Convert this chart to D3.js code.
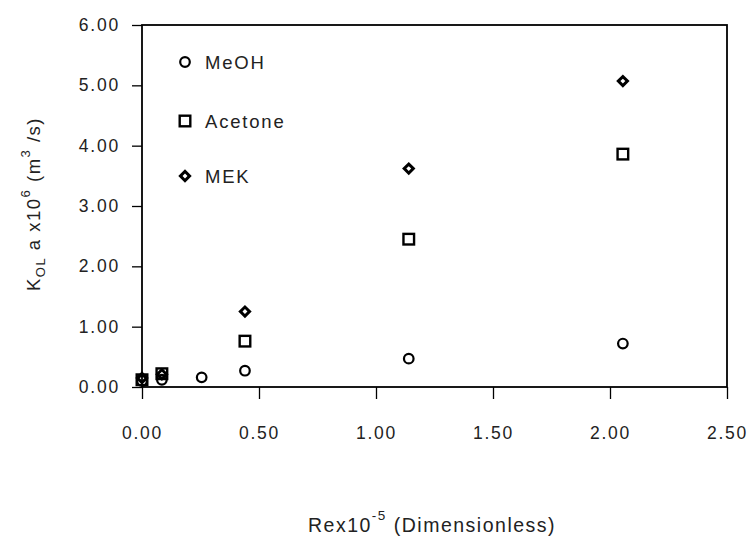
<!DOCTYPE html>
<html>
<head>
<meta charset="utf-8">
<script src="https://cdn.jsdelivr.net/npm/d3@7"></script>
<style>
  body { margin: 0; background: #fff; }
  svg { display: block; font-family: "Liberation Sans", Arial, sans-serif; }
  .tick text { fill: #222; }
</style>
</head>
<body>
<svg id="chart" width="750" height="548"></svg>
<script>
// values
let meohX = [0.00, 0.085, 0.255, 0.44, 1.14, 2.055];
let meohY = [0.10, 0.12, 0.16, 0.27, 0.47, 0.72];
let acetoneX = [0.00, 0.085, 0.44, 1.14, 2.055];
let acetoneY = [0.12, 0.22, 0.76, 2.45, 3.86];
let mekX = [0.00, 0.085, 0.44, 1.14, 2.055];
let mekY = [0.15, 0.21, 1.25, 3.62, 5.07];
let xTicks = [0, 0.5, 1, 1.5, 2, 2.5];
let yTicks = [0, 1, 2, 3, 4, 5, 6];
let seriesNames = ['MeOH', 'Acetone', 'MEK'];

let svg = d3.select('#chart');
let x = d3.scaleLinear().domain([0, 2.5]).range([142, 727]);
let y = d3.scaleLinear().domain([0, 6]).range([387, 25]);

// frame
svg.append('rect')
  .attr('x', x(0)).attr('y', y(6))
  .attr('width', x(2.5) - x(0)).attr('height', y(0) - y(6))
  .attr('fill', 'none').attr('stroke', '#000').attr('stroke-width', 1.8);

let yAxis = svg.append('g')
  .attr('transform', 'translate(' + x(0) + ',0)')
  .call(d3.axisLeft(y).tickValues(yTicks).tickSize(10).tickPadding(12).tickFormat(d3.format('.2f')));
let xAxis = svg.append('g')
  .attr('transform', 'translate(0,' + y(0) + ')')
  .call(d3.axisBottom(x).tickValues(xTicks).tickSize(12).tickPadding(28).tickFormat(d3.format('.2f')));

[yAxis, xAxis].forEach(ax => {
  ax.select('.domain').remove();
  ax.selectAll('.tick line').attr('stroke', '#000').attr('stroke-width', 1.3);
  ax.selectAll('.tick text')
    .attr('font-family', '"Liberation Sans", Arial, sans-serif')
    .attr('font-size', 17.5)
    .attr('letter-spacing', '1.8px');
});

// markers
function drawCircles(g, xs, ys) {
  g.selectAll('circle.p').data(xs).join('circle')
    .attr('class', 'p')
    .attr('cx', d => x(d)).attr('cy', (d, i) => y(ys[i]))
    .attr('r', 4.8)
    .attr('fill', 'none').attr('stroke', '#000').attr('stroke-width', 2.2);
}
function drawSquares(g, xs, ys) {
  g.selectAll('rect.p').data(xs).join('rect')
    .attr('class', 'p')
    .attr('x', d => x(d) - 5.3).attr('y', (d, i) => y(ys[i]) - 5.3)
    .attr('width', 10.6).attr('height', 10.6)
    .attr('fill', 'none').attr('stroke', '#000').attr('stroke-width', 2.4);
}
let diamond = d3.symbol().type(d3.symbolSquare).size(42);
function drawDiamonds(g, xs, ys) {
  g.selectAll('path.p').data(xs).join('path')
    .attr('class', 'p')
    .attr('d', diamond)
    .attr('transform', (d, i) => 'translate(' + x(d) + ',' + y(ys[i]) + ') rotate(45)')
    .attr('fill', 'none').attr('stroke', '#000').attr('stroke-width', 3);
}

drawSquares(svg.append('g'), acetoneX, acetoneY);
drawCircles(svg.append('g'), meohX, meohY);
drawDiamonds(svg.append('g'), mekX, mekY);

// legend
let legendY = [62, 121, 176];
let drawers = [drawCircles, drawSquares, drawDiamonds];
seriesNames.forEach((name, i) => {
  let lg = svg.append('g');
  // legend marker sits at a fixed spot, so map it back through the scales
  drawers[i](lg, [x.invert(185)], [y.invert(legendY[i])]);
  lg.append('text')
    .attr('x', 205).attr('y', legendY[i] + 6.5)
    .attr('font-size', 18.5).attr('letter-spacing', '1.8px')
    .attr('fill', '#222')
    .text(name);
});

// axis titles
let yTitle = svg.append('text')
  .attr('transform', 'translate(40,204) rotate(-90)')
  .attr('text-anchor', 'middle')
  .attr('font-size', 18.5).attr('letter-spacing', '1.5px')
  .attr('fill', '#222');
yTitle.append('tspan').text('K');
yTitle.append('tspan').attr('font-size', 13).attr('dy', 5).text('OL');
yTitle.append('tspan').attr('dy', -5).text(' a x10');
yTitle.append('tspan').attr('font-size', 13).attr('dy', -10).text('6');
yTitle.append('tspan').attr('dy', 10).text(' (m');
yTitle.append('tspan').attr('font-size', 13).attr('dy', -10).text('3');
yTitle.append('tspan').attr('dy', 10).text(' /s)');

let xTitle = svg.append('text')
  .attr('x', 432).attr('y', 532)
  .attr('text-anchor', 'middle')
  .attr('font-size', 19.5).attr('letter-spacing', '1.5px')
  .attr('fill', '#222');
xTitle.append('tspan').text('Rex10');
xTitle.append('tspan').attr('font-size', 13.5).attr('dy', -12).text('-5');
xTitle.append('tspan').attr('dy', 12).text(' (Dimensionless)');
</script>
</body>
</html>
